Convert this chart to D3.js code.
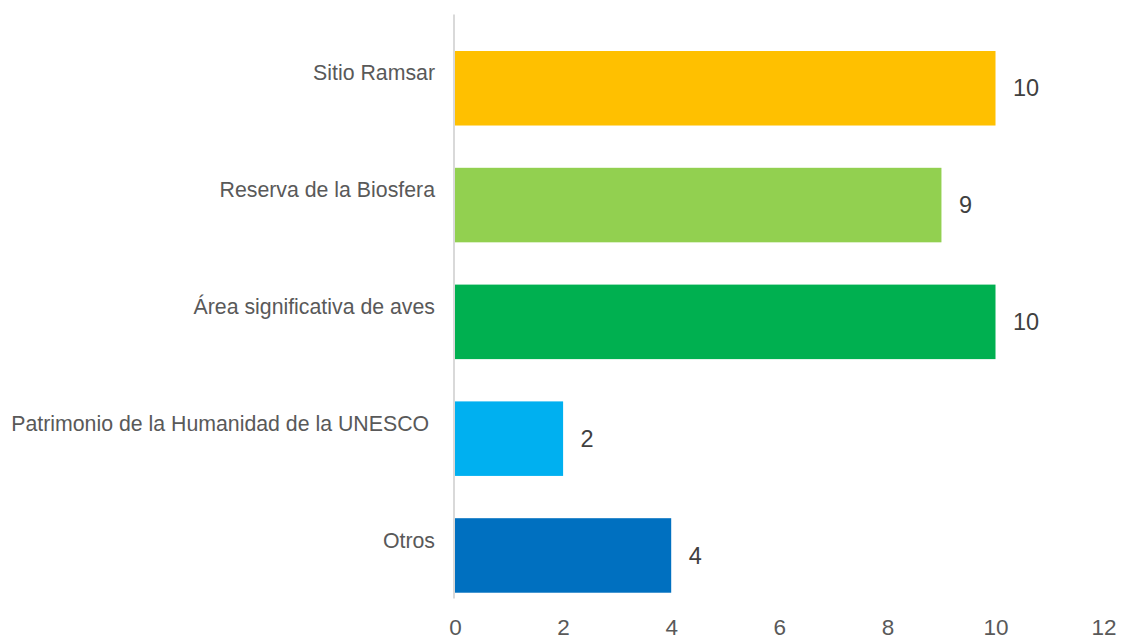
<!DOCTYPE html>
<html>
<head>
<meta charset="utf-8">
<script src="https://cdn.jsdelivr.net/npm/d3@7"></script>
<style>
  html, body { margin: 0; padding: 0; background: #fff; }
  svg { display: block; font-family: "Liberation Sans", Arial, sans-serif; }
</style>
</head>
<body>
<svg id="chart" width="1122" height="639"></svg>
<script>
// Category names (top to bottom), their counts and the bar colours
const categories = [
  "Sitio Ramsar",
  "Reserva de la Biosfera",
  "Área significativa de aves",
  "Patrimonio de la Humanidad de la UNESCO ",
  "Otros"
];
const values = [10, 9, 10, 2, 4];
const colors = ["#FFC000", "#92D050", "#00B050", "#00B0F0", "#0070C0"];
const xTicks = [0, 2, 4, 6, 8, 10, 12];

const svg = d3.select("#chart");

const x = d3.scaleLinear().domain([0, 12]).range([455, 1103.6]);
const y = d3.scaleBand().domain(categories).range([14.5, 598.5]).paddingInner(0).paddingOuter(0);
const step = y.step();
const barOffset = step * 0.3125;
const barHeight = step * 0.638;

const data = categories.map((c, i) => ({ cat: c, value: values[i], color: colors[i] }));

// Bars
svg.append("g")
  .selectAll("rect")
  .data(data)
  .join("rect")
  .attr("x", x(0))
  .attr("y", d => y(d.cat) + barOffset)
  .attr("width", d => x(d.value) - x(0))
  .attr("height", barHeight)
  .attr("fill", d => d.color);

// Vertical category axis line
svg.append("line")
  .attr("x1", 454).attr("x2", 454)
  .attr("y1", 14.5).attr("y2", 598.5)
  .attr("stroke", "#D9D9D9")
  .attr("stroke-width", 2);

// Category labels
svg.append("g")
  .selectAll("text")
  .data(data)
  .join("text")
  .attr("x", 435)
  .attr("y", d => y(d.cat) + step / 2)
  .attr("dy", "0.35em")
  .attr("text-anchor", "end")
  .style("white-space", "pre")
  .attr("font-size", "21.3px")
  .attr("fill", "#595959")
  .text(d => d.cat);

// Value labels
svg.append("g")
  .selectAll("text")
  .data(data)
  .join("text")
  .attr("x", d => x(d.value) + 17.5)
  .attr("y", d => y(d.cat) + barOffset + barHeight / 2)
  .attr("dy", "0.35em")
  .attr("font-size", "23.5px")
  .attr("fill", "#404040")
  .text(d => d.value);

// Horizontal value axis (labels only)
const xAxis = d3.axisBottom(x)
  .tickValues(xTicks)
  .tickSize(0)
  .tickPadding(0)
  .tickFormat(d3.format("d"));

const gx = svg.append("g")
  .attr("transform", "translate(0,619)")
  .call(xAxis);
gx.select(".domain").remove();
gx.selectAll("text")
  .attr("font-size", "22.5px")
  .attr("font-family", "Liberation Sans, Arial, sans-serif")
  .attr("fill", "#595959")
  .attr("dy", "0.72em");
</script>
</body>
</html>
